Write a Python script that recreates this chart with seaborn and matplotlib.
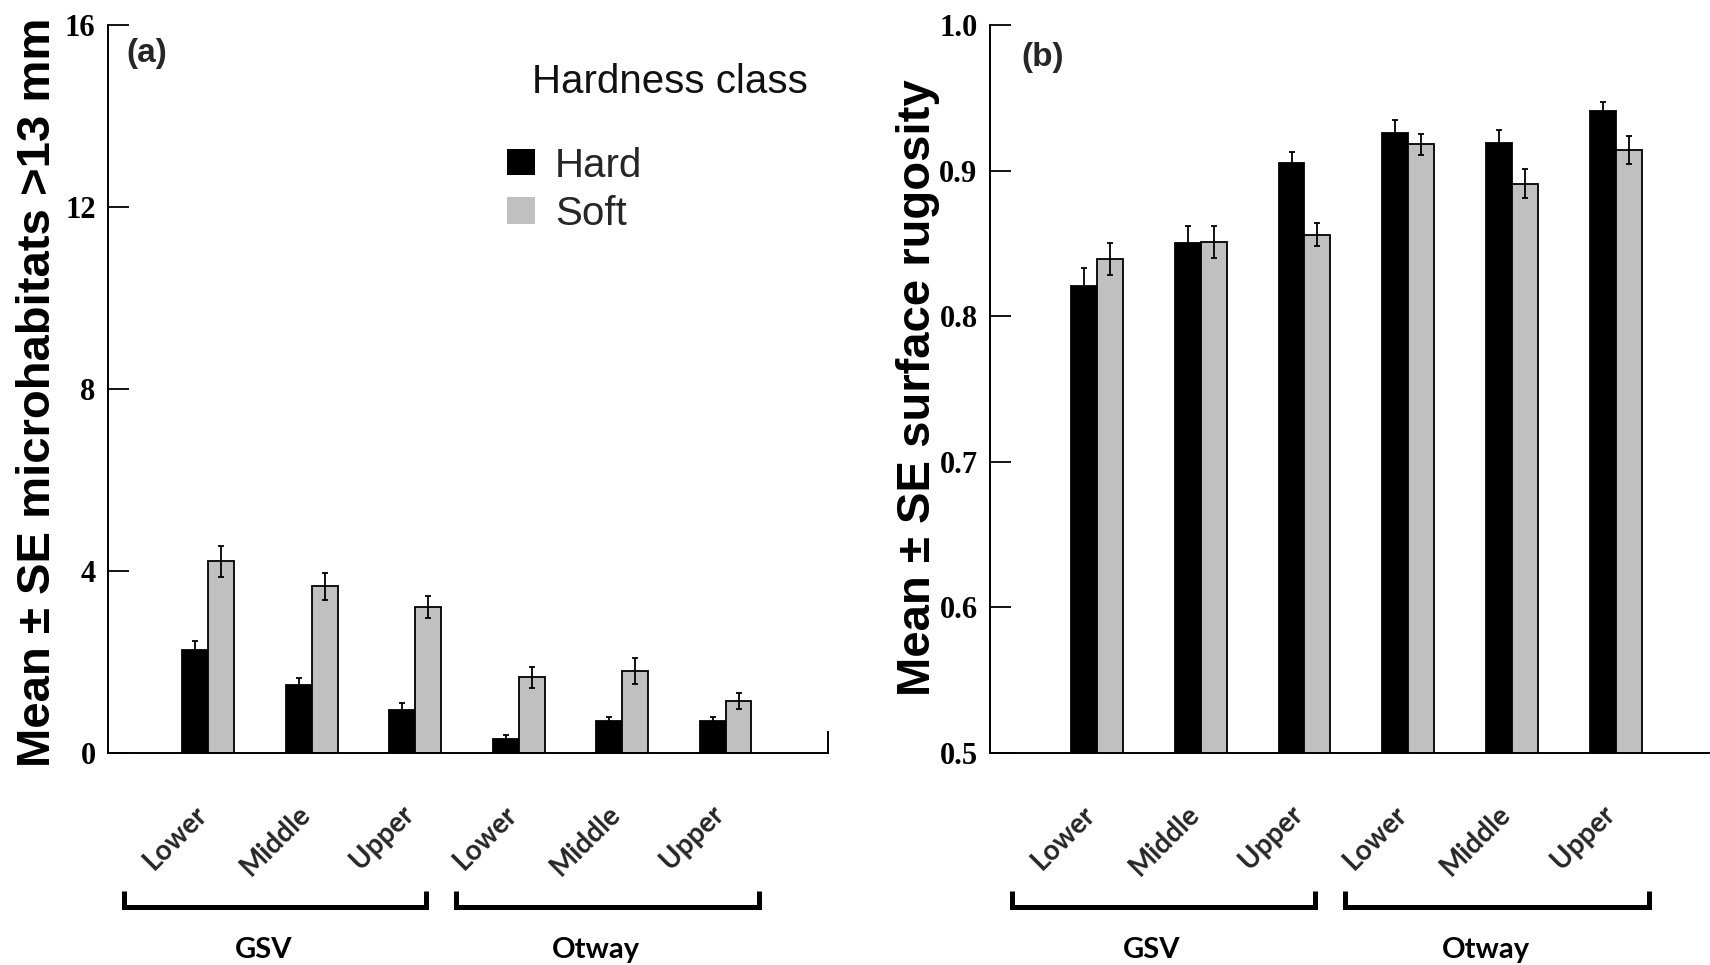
import numpy as np
import pandas as pd
import matplotlib
matplotlib.use("Agg")
import matplotlib.pyplot as plt
import matplotlib.patches as mpatches
import matplotlib.transforms as mtransforms
import seaborn as sns

# ---- data -------------------------------------------------------------
regions = ["GSV", "GSV", "GSV", "Otway", "Otway", "Otway"]
zones = ["Lower", "Middle", "Upper", "Lower", "Middle", "Upper"]
hardness = ["Hard", "Soft"]
region_names = ["GSV", "Otway"]

micro_hard = [2.27, 1.49, 0.95, 0.30, 0.70, 0.70]
micro_hard_se = [0.20, 0.16, 0.15, 0.10, 0.10, 0.10]
micro_soft = [4.21, 3.66, 3.21, 1.66, 1.80, 1.14]
micro_soft_se = [0.34, 0.29, 0.24, 0.23, 0.28, 0.17]

rug_hard = [0.821, 0.850, 0.905, 0.926, 0.919, 0.941]
rug_hard_se = [0.012, 0.012, 0.008, 0.009, 0.009, 0.006]
rug_soft = [0.839, 0.851, 0.856, 0.918, 0.891, 0.914]
rug_soft_se = [0.011, 0.011, 0.008, 0.007, 0.010, 0.0095]

micro_ticks = [0, 4, 8, 12, 16]
rug_ticks = [0.5, 0.6, 0.7, 0.8, 0.9, 1.0]

# ---- style ------------------------------------------------------------
sns.set_theme(style="white")
plt.rcParams["font.family"] = ["Liberation Sans", "DejaVu Sans"]

HARD_COLOR = "#000000"
SOFT_COLOR = "#c0c0c0"
TICK_FONT = dict(family=["Liberation Serif", "DejaVu Serif"], weight="bold", size=22)
CAT_FONT = dict(family=["Lato", "DejaVu Sans"], weight="bold", size=20)

W, H = 1710, 965
fig = plt.figure(figsize=(W / 100, H / 100), dpi=100)
ax1 = fig.add_axes([108 / W, (H - 753) / H, 720 / W, 728 / H])
ax2 = fig.add_axes([990 / W, (H - 753) / H, 720 / W, 728 / H])

sites = [f"{r} {z}" for r, z in zip(regions, zones)]


def draw_panel(ax, hard, hard_se, soft, soft_se, ylim, yticks, fmt, ylabel,
               tag, tag_xy, xlim, label_xy):
    df = pd.DataFrame({
        "site": sites * 2,
        "hardness": ["Hard"] * len(sites) + ["Soft"] * len(sites),
        "mean": list(hard) + list(soft),
    })
    sns.barplot(data=df, x="site", y="mean", hue="hardness", order=sites,
                hue_order=hardness, palette=[HARD_COLOR, SOFT_COLOR],
                saturation=1, width=0.5, errorbar=None, edgecolor="black",
                linewidth=1.3, legend=False, ax=ax)

    # standard-error bars on top of each bar
    for cont, se in zip(ax.containers, [hard_se, soft_se]):
        xs = [p.get_x() + p.get_width() / 2 for p in cont.patches]
        ax.errorbar(xs, cont.datavalues, yerr=se, fmt="none", ecolor="black",
                    elinewidth=1.3, capsize=2.5, capthick=1.3, zorder=5)

    ax.set_xlim(*xlim)
    ax.set_ylim(*ylim)
    ax.set_yticks(yticks)
    ax.set_yticklabels([fmt.format(t) for t in yticks], **TICK_FONT)
    ax.tick_params(axis="y", direction="in", length=15, width=1.3, pad=9,
                   left=True, colors="black")
    ax.set_xticks(range(len(sites)))
    ax.set_xticklabels(zones, rotation=45, ha="right", va="center",
                       rotation_mode="anchor", **CAT_FONT)
    ax.tick_params(axis="x", length=0, pad=41)
    shift = mtransforms.ScaledTranslation(-4 / 72, 0, fig.dpi_scale_trans)
    for lab in ax.get_xticklabels():
        lab.set_transform(lab.get_transform() + shift)
    ax.set_xlabel("")

    for side in ["top", "right"]:
        ax.spines[side].set_visible(False)
    for side in ["left", "bottom"]:
        ax.spines[side].set_color("black")
        ax.spines[side].set_linewidth(1.4)

    ax.set_ylabel(ylabel, fontsize=34, fontweight="bold", color="black")
    ax.yaxis.set_label_coords(*label_xy)

    ax.text(tag_xy[0], tag_xy[1], tag, transform=ax.transAxes, ha="left",
            va="top", fontsize=24, fontweight="bold",
            family=["Liberation Sans Narrow", "Liberation Sans"])

    # region brackets below the zone labels
    trans = mtransforms.blended_transform_factory(ax.transData, ax.transAxes)
    spans = [(-0.82, 2.10), (2.39, 5.32)]
    for name, (x0, x1) in zip(region_names, spans):
        ax.plot([x0, x0, x1, x1], [-0.189, -0.2115, -0.2115, -0.189],
                transform=trans, clip_on=False, color="black", lw=3.6,
                solid_joinstyle="miter", solid_capstyle="butt")
        ax.text((x0 + x1) / 2 - 0.11, -0.27, name, transform=trans,
                ha="center", va="center", color="black",
                **dict(CAT_FONT, size=21))


draw_panel(ax1, micro_hard, micro_hard_se, micro_soft, micro_soft_se,
           (0, 16), micro_ticks, "{:g}", "Mean \u00b1 SE microhabitats >13 mm",
           "(a)", (0.026, 0.982), (-0.97, 5.99), (-0.066, 0.495))
draw_panel(ax2, rug_hard, rug_hard_se, rug_soft, rug_soft_se,
           (0.5, 1.0), rug_ticks, "{:.1f}", "Mean \u00b1 SE surface rugosity",
           "(b)", (0.044, 0.976), (-1.03, 5.907), (-0.070, 0.502))

# short end stub on the x axis of panel (a)
ax1.spines["right"].set_visible(True)
ax1.spines["right"].set_color("black")
ax1.spines["right"].set_linewidth(1.4)
ax1.spines["right"].set_bounds(0, 0.46)

# legend for hardness class
ax1.text(0.589, 0.9066, "Hardness class", transform=ax1.transAxes,
         ha="left", va="baseline", fontsize=29, color="#111111")
handles = [mpatches.Patch(facecolor=HARD_COLOR, edgecolor="none"),
           mpatches.Patch(facecolor=SOFT_COLOR, edgecolor="none")]
ax1.legend(handles, hardness, loc="upper left", bbox_to_anchor=(0.554, 0.833),
           frameon=False, fontsize=29, handlelength=0.69, handleheight=0.62,
           handletextpad=0.5, labelspacing=0.25, borderpad=0, borderaxespad=0)

fig.savefig("out.png", dpi=100, facecolor="white")
